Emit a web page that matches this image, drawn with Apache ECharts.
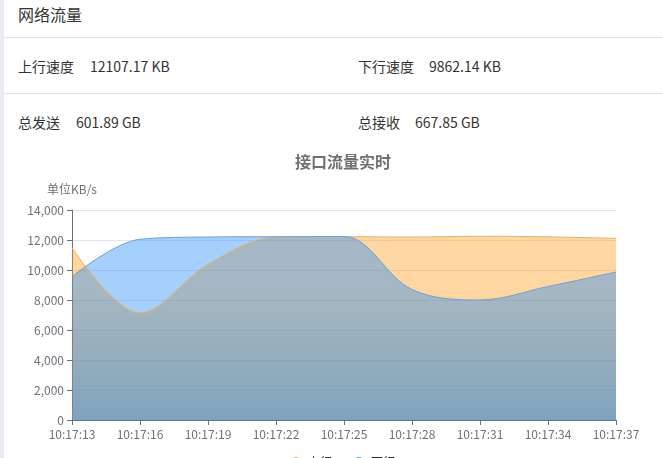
<!DOCTYPE html>
<html>
<head>
<meta charset="utf-8">
<script src="https://cdn.jsdelivr.net/npm/echarts@6/dist/echarts.min.js"></script>
<style>
html,body{margin:0;padding:0;width:663px;height:458px;overflow:hidden;background:#e9ecf2;}
#panel{position:absolute;left:4px;top:0;width:700px;height:470px;background:#fff;font-family:"Noto Sans CJK SC","Noto Sans",sans-serif;color:#333;}
.t{position:absolute;white-space:nowrap;line-height:1;}
.hr{position:absolute;left:0;width:700px;height:1px;background:#e3e3e3;}
#chart{position:absolute;left:23px;top:140px;width:640px;height:330px;}
</style>
</head>
<body>
<div id="panel">
  <div class="t" style="left:14px;top:6px;font-size:16px;">网络流量</div>
  <div class="hr" style="top:37px;"></div>
  <div class="t" style="left:14px;top:59px;font-size:14px;">上行速度<span style="margin-left:16px">12107.17 KB</span></div>
  <div class="t" style="left:354px;top:59px;font-size:14px;">下行速度<span style="margin-left:15px">9862.14 KB</span></div>
  <div class="hr" style="top:93px;"></div>
  <div class="t" style="left:14px;top:115px;font-size:14px;">总发送<span style="margin-left:16px">601.89 GB</span></div>
  <div class="t" style="left:354px;top:115px;font-size:14px;">总接收<span style="margin-left:15px">667.85 GB</span></div>
</div>
<div id="chart"></div>
<script>
var times = ['10:17:13','10:17:16','10:17:19','10:17:22','10:17:25','10:17:28','10:17:31','10:17:34','10:17:37'];
var upload = [11490, 7150, 10380, 12200, 12220, 12200, 12250, 12210, 12107.17];
var download = [9550, 12050, 12200, 12220, 12230, 8700, 8000, 8900, 9862.14];
var seriesNames = ['上行', '下行'];
var yTicks = {min: 0, max: 14000, interval: 2000};

var chart = echarts.init(document.getElementById('chart'), null, {renderer: 'canvas'});
var axisColor = '#6E7079';
chart.setOption({
  animation: false,
  textStyle: {fontFamily: '"Noto Sans CJK SC","Noto Sans",sans-serif'},
  title: {
    text: '接口流量实时', left: 'center', top: 9,
    textStyle: {fontSize: 16, fontWeight: 'bold', color: '#707070'}
  },
  legend: {
    data: seriesNames, icon: 'circle', itemWidth: 14, itemHeight: 10, itemGap: 22,
    left: 'center', top: 311, textStyle: {fontSize: 12, color: '#333'}
  },
  grid: {left: 49, right: 47, top: 70, bottom: 50},
  xAxis: {
    type: 'category', boundaryGap: false, data: times,
    axisLine: {show: true, lineStyle: {color: axisColor}},
    axisTick: {show: true, lineStyle: {color: axisColor}},
    axisLabel: {color: axisColor, fontSize: 12, margin: 8}
  },
  yAxis: {
    type: 'value', name: '单位KB/s', nameGap: 15,
    nameTextStyle: {color: axisColor, fontSize: 12},
    min: yTicks.min, max: yTicks.max, interval: yTicks.interval,
    axisLine: {show: true, lineStyle: {color: axisColor}},
    axisTick: {show: true, lineStyle: {color: axisColor}},
    axisLabel: {color: axisColor, fontSize: 12},
    splitLine: {lineStyle: {color: '#E0E6F1'}}
  },
  series: [
    {
      name: seriesNames[0], type: 'line', smooth: 0.35, showSymbol: false,
      data: upload, itemStyle: {color: '#f7b24f'},
      lineStyle: {width: 1, color: '#f5b04c'},
      areaStyle: {
        opacity: 1,
        color: new echarts.graphic.LinearGradient(0, 0, 0, 1, [
          {offset: 0, color: 'rgba(252,150,14,0.39)'},
          {offset: 0.3, color: 'rgba(252,150,14,0.39)'},
          {offset: 1, color: 'rgba(160,148,112,0.7)'}
        ])
      }
    },
    {
      name: seriesNames[1], type: 'line', smooth: 0.35, showSymbol: false,
      data: download, itemStyle: {color: '#4fa3f6'},
      lineStyle: {width: 1, color: '#55a6f7'},
      areaStyle: {opacity: 1, color: 'rgba(32,138,248,0.4)'}
    }
  ]
});
</script>
</body>
</html>
